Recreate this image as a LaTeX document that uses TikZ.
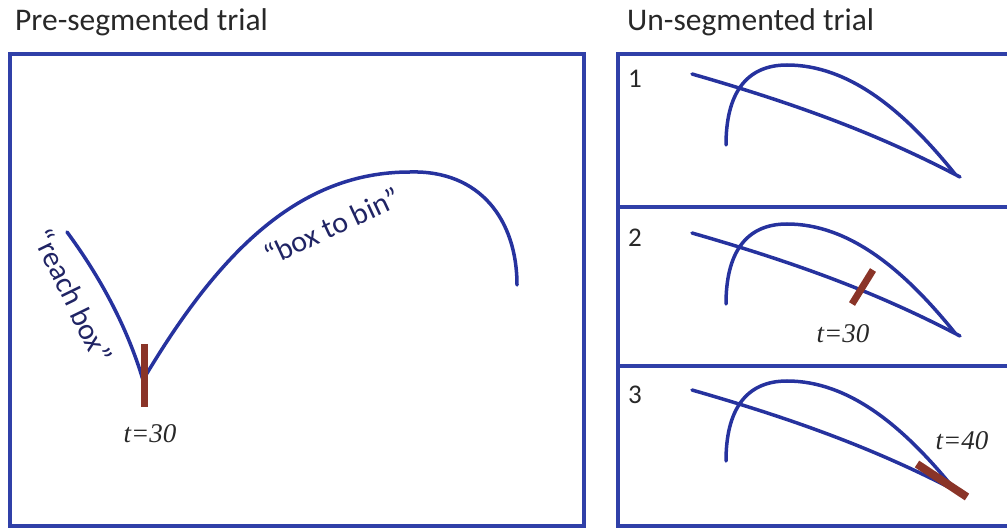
\documentclass[tikz,border=0pt]{standalone}
\usepackage{fontspec}
\setmainfont{Carlito}
\newfontfamily\tms{Liberation Serif}
\definecolor{frameblue}{RGB}{48,64,168}
\definecolor{lineblue}{RGB}{38,50,158}
\definecolor{barbrown}{RGB}{138,52,40}
\definecolor{labelnavy}{RGB}{32,36,100}
\definecolor{titlegray}{RGB}{40,40,40}
\begin{document}
\begin{tikzpicture}[x=1pt,y=-1pt,
  frame/.style={draw=frameblue,line width=4pt},
  traj/.style={draw=lineblue,line width=3.5pt,line cap=round},
  marker/.style={draw=barbrown,line width=7pt},
  title/.style={anchor=base west,font=\fontsize{31.5}{36}\selectfont,text=titlegray,inner sep=0pt},
  num/.style={font=\fontsize{27}{32}\selectfont,text=titlegray,inner sep=0pt},
  quote/.style={font=\fontsize{30}{34}\selectfont,text=labelnavy,inner sep=0pt},
  tlabel/.style={font=\tms\itshape\fontsize{27}{30}\selectfont,text=titlegray,inner sep=0pt}]
\useasboundingbox (0,0) rectangle (1007,529);
\clip (0,0) rectangle (1007,529);
% titles
\node[title] (tl) at (15,31) {Pre-segmented trial};
\node[title] (tr) at (627,31) {Un-segmented trial};
% left frame
\draw[frame] (10,54) rectangle (584,526);
% right frames
\draw[frame] (618,54) rectangle (1030,526);
\draw[frame] (618,207) -- (1030,207);
\draw[frame] (618,366) -- (1030,366);
% left panel trajectories
\coordinate (rs) at (67,232);
\coordinate (v) at (143,380);
\coordinate (pk) at (410,172);
\coordinate (be) at (517,285);
\draw[traj] (rs) .. controls (95,270) and (125,320) .. (v);
\draw[traj] (v) .. controls (220,250) and (300,172) .. (pk) .. controls (480,170) and (517,220) .. (be);
\coordinate (b1) at (144,344);
\coordinate (b2) at (144,407);
\draw[marker] (b1) -- (b2);
\node[tlabel] (t1) at (150,434) {t=30};
\node[quote,rotate=-64] (rb) at (73,296) {“reach box”};
\node[quote,rotate=25] (bb) at (332,226) {“box to bin”};
% right panels
\foreach \o/\n in {0/1,159/2,316/3}{
  \begin{scope}[shift={(0,\o)}]
    \node[num] (n\n) at (635,79) {\n};
    \draw[traj] (692,74) .. controls (800,105) and (880,135) .. (960,177);
    \draw[traj] (726,145) .. controls (726,95) and (745,65) .. (787,65) .. controls (850,65) and (905,112) .. (955,174);
  \end{scope}
}
\coordinate (m2a) at (852,304);
\coordinate (m2b) at (873,270);
\draw[marker] (m2a) -- (m2b);
\node[tlabel] (t2) at (843,334) {t=30};
\coordinate (m3a) at (917,464);
\coordinate (m3b) at (967,497);
\draw[marker,line width=8pt] (m3a) -- (m3b);
\node[tlabel] (t3) at (962,441) {t=40};
\end{tikzpicture}
\end{document}
